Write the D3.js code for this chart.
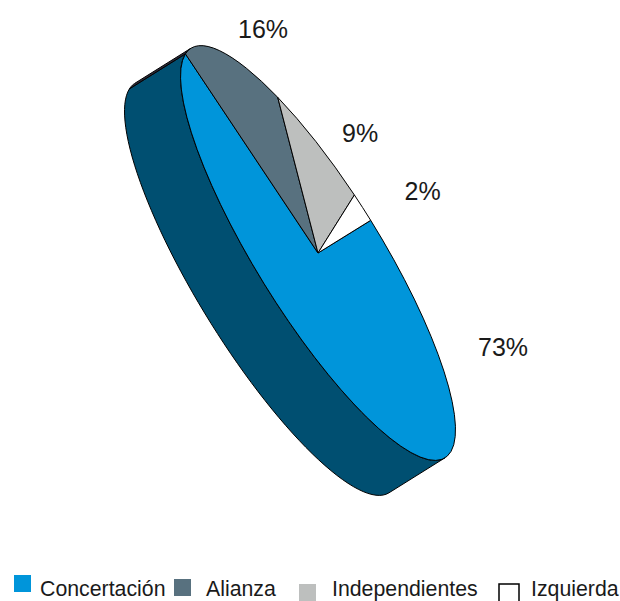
<!DOCTYPE html>
<html>
<head>
<meta charset="utf-8">
<script src="https://cdn.jsdelivr.net/npm/d3@7"></script>
<style>
  html, body { margin: 0; padding: 0; background: #fff; }
  svg { display: block; }
  text { font-family: "Liberation Sans", Arial, sans-serif; fill: #1a1a1a; }
</style>
</head>
<body>
<script>
// share of seats, order as in the legend
const categories = ['Concertación', 'Alianza', 'Independientes', 'Izquierda'];
const values = [73, 16, 9, 2];
const pctLabels = ['73%', '16%', '9%', '2%'];
const colors = ['#0095da', '#58717f', '#bdbfbe', '#ffffff'];
const sideColors = ['#004f71', '#2c2a3a', '#6b6b6b', '#888888'];

const svgWidth = 620;
const svgHeight = 601;

// the pie is a flat disc seen at an angle: unit circle -> rotated ellipse
const cx = 318, cy = 253;
const rx = 241, ry = 62;
const tilt = 58.2;
const depth = [-56, 35];

const svg = d3.select('body')
  .append('svg')
  .attr('width', svgWidth)
  .attr('height', svgHeight);

const slices = d3.pie().sort(null).value(d => d)(values);
const arc = d3.arc().innerRadius(0).outerRadius(1);

const cosT = Math.cos(tilt * Math.PI / 180);
const sinT = Math.sin(tilt * Math.PI / 180);

// screen point of the disc rim at a pie angle
function rim(a, dx = 0, dy = 0) {
  const u = rx * Math.sin(a);
  const v = -ry * Math.cos(a);
  return [cx + u * cosT - v * sinT + dx, cy + u * sinT + v * cosT + dy];
}

// rim angles where the side wall starts and stops being visible
const localU = (depth[0] * cosT + depth[1] * sinT) / rx;
const localV = (-depth[0] * sinT + depth[1] * cosT) / ry;
const wallStart = Math.atan2(localV, localU);
const wallEnd = wallStart + Math.PI;

const line = d3.line();

function wallPath(a0, a1) {
  const steps = d3.range(0, 61).map(i => a0 + (a1 - a0) * i / 60);
  const front = steps.map(a => rim(a));
  const back = steps.map(a => rim(a, depth[0], depth[1])).reverse();
  return line(front.concat(back)) + 'Z';
}

// side walls first, only the part of each slice that faces us
const walls = svg.append('g');
slices.forEach((s, i) => {
  const a0 = Math.max(s.startAngle, wallStart);
  const a1 = Math.min(s.endAngle, wallEnd);
  if (a1 <= a0) return;
  walls.append('path')
    .attr('d', wallPath(a0, a1))
    .attr('fill', sideColors[i])
    .attr('stroke', '#000')
    .attr('stroke-width', 1)
    .attr('stroke-linejoin', 'round');
});

// top face
svg.append('g')
  .attr('transform', `translate(${cx},${cy}) rotate(${tilt}) scale(${rx},${ry})`)
  .selectAll('path')
  .data(slices)
  .enter()
  .append('path')
  .attr('d', arc)
  .attr('fill', (d, i) => colors[i])
  .attr('stroke', '#000')
  .attr('stroke-width', 1)
  .attr('vector-effect', 'non-scaling-stroke')
  .attr('stroke-linejoin', 'round');

// percent labels
const labelPos = [[478, 356], [238, 38], [342, 142], [404.5, 200]];
svg.selectAll('.pct')
  .data(pctLabels)
  .enter()
  .append('text')
  .attr('class', 'pct')
  .attr('x', (d, i) => labelPos[i][0])
  .attr('y', (d, i) => labelPos[i][1])
  .attr('font-size', 25)
  .text(d => d);

// legend, the entries do not sit on one line in the original
const legendBox = [[14, 575, 17], [174, 579, 17], [299, 584, 17], [499, 584, 20]];
const legendText = [[40, 596], [206, 596], [332, 596], [531, 596]];

svg.selectAll('.swatch')
  .data(categories)
  .enter()
  .append('rect')
  .attr('class', 'swatch')
  .attr('x', (d, i) => legendBox[i][0])
  .attr('y', (d, i) => legendBox[i][1])
  .attr('width', (d, i) => legendBox[i][2])
  .attr('height', (d, i) => legendBox[i][2])
  .attr('fill', (d, i) => colors[i])
  .attr('stroke', (d, i) => i === 3 ? '#000' : 'none')
  .attr('stroke-width', 1.5);

svg.selectAll('.legend')
  .data(categories)
  .enter()
  .append('text')
  .attr('class', 'legend')
  .attr('x', (d, i) => legendText[i][0])
  .attr('y', (d, i) => legendText[i][1])
  .attr('font-size', 21.3)
  .text(d => d);
</script>
</body>
</html>
